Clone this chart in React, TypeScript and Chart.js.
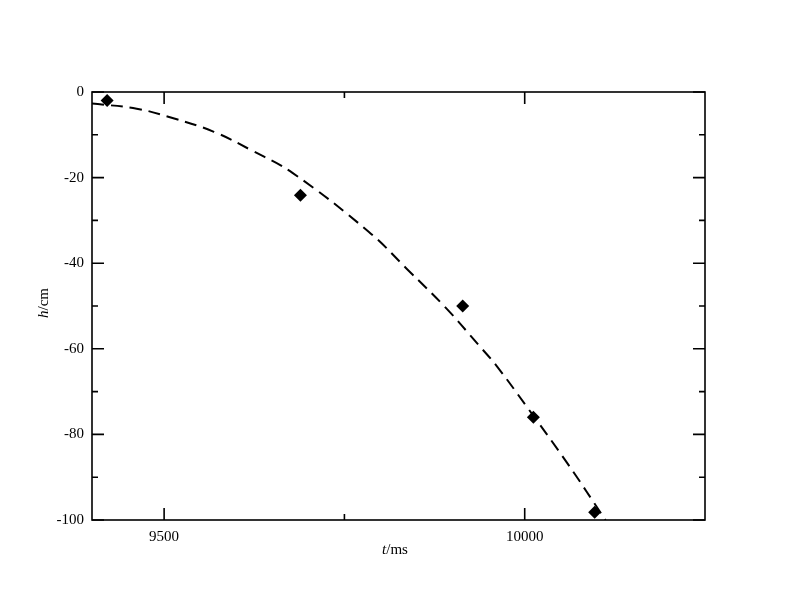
import React, { useEffect, useRef } from "react";
import { Chart, registerables } from "chart.js";

Chart.register(...registerables);

// Observed data (t in ms, h in cm)
const obsT = [9421, 9689, 9914, 10012, 10097];
const obsH = [-2.0, -24.1, -50.0, -76.0, -98.2];

// Fitted (dashed) curve
const fitT = [9400, 9462, 9514, 9569, 9622, 9678, 9784, 9837, 9891, 9936, 9961, 10001, 10059, 10112];
const fitH = [-2.7, -3.9, -6.2, -9.3, -13.7, -18.9, -32.7, -41.4, -50.5, -59.1, -64.0, -73.1, -86.7, -100];

// Ticks
const xMajor = [9500, 10000];
const xMinor = [9750];
const yMajor = [0, -20, -40, -60, -80, -100];
const yMinor = [-10, -30, -50, -70, -90];

const X_MIN = 9400;
const X_MAX = 10250;
const Y_MIN = -100;
const Y_MAX = 0;

const FONT = "'Liberation Serif', 'DejaVu Serif', serif";

const framePlugin = {
  id: "frameTicks",
  afterDatasetsDraw(chart: any) {
    const { ctx, chartArea: a, scales } = chart;
    const xs = scales.x;
    const ys = scales.y;
    ctx.save();
    ctx.strokeStyle = "#000";
    ctx.lineWidth = 1.6;
    ctx.strokeRect(a.left, a.top, a.right - a.left, a.bottom - a.top);
    ctx.beginPath();
    const xt = (v: number, len: number) => {
      const px = xs.getPixelForValue(v);
      ctx.moveTo(px, a.bottom);
      ctx.lineTo(px, a.bottom - len);
      ctx.moveTo(px, a.top);
      ctx.lineTo(px, a.top + len);
    };
    const yt = (v: number, len: number) => {
      const py = ys.getPixelForValue(v);
      ctx.moveTo(a.left, py);
      ctx.lineTo(a.left + len, py);
      ctx.moveTo(a.right, py);
      ctx.lineTo(a.right - len, py);
    };
    xMajor.forEach((v) => xt(v, 12));
    xMinor.forEach((v) => xt(v, 6));
    yMajor.forEach((v) => yt(v, 12));
    yMinor.forEach((v) => yt(v, 6));
    ctx.stroke();

    // Axis titles with italic variable
    ctx.fillStyle = "#000";
    ctx.textBaseline = "middle";
    const drawTitle = (it: string, rest: string) => {
      ctx.font = `italic 15px ${FONT}`;
      const w1 = ctx.measureText(it).width;
      ctx.font = `15px ${FONT}`;
      const w2 = ctx.measureText(rest).width;
      const start = -(w1 + w2) / 2;
      ctx.textAlign = "left";
      ctx.font = `italic 15px ${FONT}`;
      ctx.fillText(it, start, 0);
      ctx.font = `15px ${FONT}`;
      ctx.fillText(rest, start + w1, 0);
    };
    ctx.save();
    ctx.translate(395, 550);
    drawTitle("t", "/ms");
    ctx.restore();
    ctx.save();
    ctx.translate(44, 303);
    ctx.rotate(-Math.PI / 2);
    drawTitle("h", "/cm");
    ctx.restore();
    ctx.restore();
  },
};

export default function App() {
  const ref = useRef<HTMLCanvasElement | null>(null);
  useEffect(() => {
    if (!ref.current) return;
    const chart = new Chart(ref.current, {
      type: "scatter",
      data: {
        datasets: [
          {
            type: "line",
            data: fitT.map((t, i) => ({ x: t, y: fitH[i] })),
            borderColor: "#000",
            borderWidth: 2,
            borderDash: [12, 7],
            pointRadius: 0,
            fill: false,
            tension: 0.4,
          } as any,
          {
            type: "scatter",
            data: obsT.map((t, i) => ({ x: t, y: obsH[i] })),
            pointStyle: "rectRot",
            pointRadius: 6.5,
            backgroundColor: "#000",
            borderColor: "#000",
            borderWidth: 0,
          } as any,
        ],
      },
      options: {
        responsive: false,
        animation: false,
        layout: { padding: { left: 0, top: 92, right: 87, bottom: 0 } },
        plugins: { legend: { display: false }, tooltip: { enabled: false } },
        scales: {
          x: {
            type: "linear",
            min: X_MIN,
            max: X_MAX,
            afterBuildTicks: (s: any) => {
              s.ticks = xMajor.map((v) => ({ value: v }));
            },
            afterFit: (s: any) => {
              s.height = 92;
            },
            ticks: {
              color: "#000",
              font: { family: FONT, size: 15 },
              padding: 8,
              maxRotation: 0,
              autoSkip: false,
              callback: (v: any) => String(v),
            },
            grid: { display: false, drawTicks: false },
            border: { display: false },
          },
          y: {
            type: "linear",
            min: Y_MIN,
            max: Y_MAX,
            afterBuildTicks: (s: any) => {
              s.ticks = yMajor.map((v) => ({ value: v }));
            },
            afterFit: (s: any) => {
              s.width = 92;
            },
            ticks: {
              color: "#000",
              font: { family: FONT, size: 15 },
              padding: 8,
              autoSkip: false,
              callback: (v: any) => String(v),
            },
            grid: { display: false, drawTicks: false },
            border: { display: false },
          },
        },
      },
      plugins: [framePlugin],
    });
    return () => chart.destroy();
  }, []);
  return (
    <canvas
      ref={ref}
      width={792}
      height={612}
      style={{ position: "absolute", left: 0, top: 0, width: 792, height: 612, background: "#fff" }}
    />
  );
}
